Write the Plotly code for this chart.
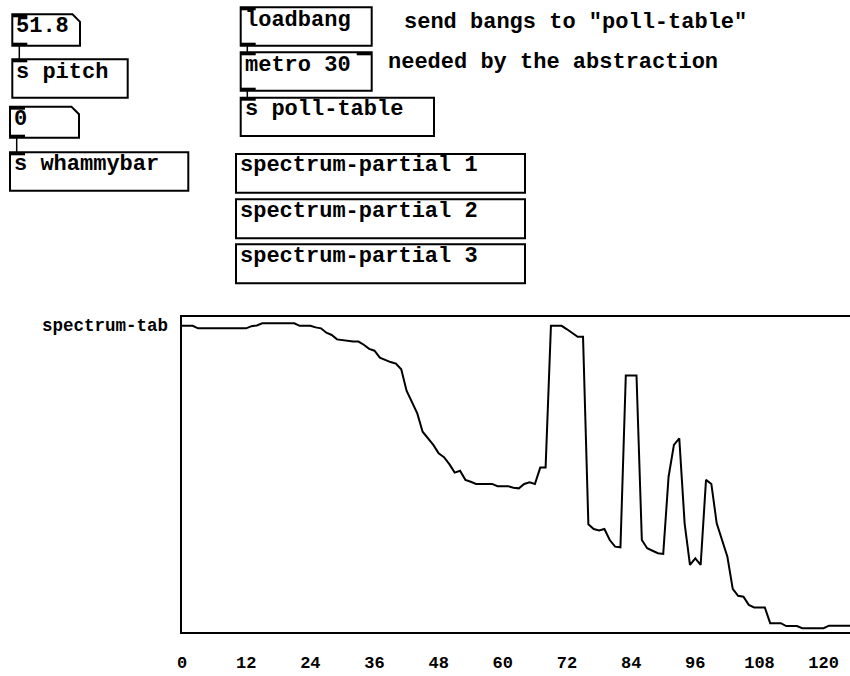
import plotly.graph_objects as go

# ---------------- data ----------------
array_name = "spectrum-tab"
spectrum_values = [
    97.2, 97.2, 97.2,
    96.4, 96.4, 96.4, 96.4, 96.4, 96.4, 96.4, 96.4, 96.4, 96.4,
    97.1, 97.3,
    98.0, 98.0, 98.0, 98.0, 98.0, 98.0, 98.0,
    97.2, 97.2, 97.2,
    96.7, 96.4, 95.0, 94.3, 92.9, 92.7, 92.3, 92.2, 92.2, 91.2,
    89.9, 89.3, 87.1, 86.3, 85.7, 85.2, 83.4, 76.6, 73.1, 69.4,
    63.6, 61.5, 59.4, 56.7, 55.5, 53.3, 50.6, 51.2, 48.3, 47.7,
    47.0, 47.0, 47.0, 47.0,
    46.3, 46.3, 46.3,
    45.8, 45.6, 47.0, 47.5, 47.0, 52.2, 52.2,
    97.2, 97.2, 97.2,
    96.1, 95.0, 93.7, 93.7, 34.2, 32.7, 32.2, 32.7, 29.2, 27.1, 26.9,
    81.4, 81.4, 81.4,
    29.2, 26.6, 25.8, 25.0, 24.8, 49.3, 59.4, 61.5, 34.5, 21.3,
    23.4, 21.3, 48.3, 47.0, 34.5, 29.2, 23.9, 13.7, 11.5, 11.2,
    8.6, 7.8, 7.8, 7.8, 2.8, 2.8, 2.8, 1.9, 1.9, 1.9,
    1.2, 1.2, 1.2, 1.2, 1.2,
    2.0, 2.0, 2.0, 2.0, 2.0, 2.0, 2.0,
]
assert len(spectrum_values) == 128
indices = list(range(len(spectrum_values)))
tick_values = [0, 12, 24, 36, 48, 60, 72, 84, 96, 108, 120]
tick_labels = [str(t) for t in tick_values]

# patch text (Pd objects and comments)
number_boxes = ["51.8", "0"]
object_boxes = ["s pitch", "s whammybar", "loadbang", "metro 30", "s poll-table",
                "spectrum-partial 1", "spectrum-partial 2", "spectrum-partial 3"]
comments = ['send bangs to "poll-table"', "needed by the abstraction"]

# ---------------- layout helpers ----------------
W, H = 850, 676
L, T, B = 182, 317, 632
PX_PER_UNIT = 5.347
x_max = (W - L) / PX_PER_UNIT

def X(p):
    return (p - L) / (W - L)

def Y(p):
    return (B - p) / (B - T)

FONT = "Liberation Mono"
shapes = []
annotations = []

def box(x0, y0, x1, y1):
    shapes.append(dict(type="rect", xref="paper", yref="paper",
                       x0=X(x0), x1=X(x1), y0=Y(y0), y1=Y(y1),
                       line=dict(color="black", width=2), fillcolor="rgba(0,0,0,0)"))

def numbox(x0, y0, x1, y1, notch=7.5):
    path = "M {a},{b} L {c},{b} L {d},{e} L {d},{f} L {a},{f} Z".format(
        a=X(x0), b=Y(y0), c=X(x1 - notch), d=X(x1), e=Y(y0 + notch), f=Y(y1))
    shapes.append(dict(type="path", xref="paper", yref="paper", path=path,
                       line=dict(color="black", width=2)))

def port(x0, y, top=True):
    y0, y1 = (y, y + 3) if top else (y - 3, y)
    shapes.append(dict(type="rect", xref="paper", yref="paper",
                       x0=X(x0), x1=X(x0 + 15), y0=Y(y0), y1=Y(y1),
                       line=dict(width=0), fillcolor="black"))

def wire(x, ya, yb):
    shapes.append(dict(type="line", xref="paper", yref="paper",
                       x0=X(x), x1=X(x), y0=Y(ya), y1=Y(yb),
                       line=dict(color="black", width=1.5)))

def text(t, x, y, size=22, anchor="left"):
    annotations.append(dict(text=t, xref="paper", yref="paper", x=X(x), y=Y(y),
                            xanchor=anchor, yanchor="middle", showarrow=False,
                            font=dict(family=FONT, size=size, color="black", weight="bold")))

# number box 51.8 -> s pitch
numbox(12.3, 14.3, 80, 45.7)
port(12.3, 14.3); port(12.3, 45.7, top=False)
text(number_boxes[0], 14, 26.5)
wire(19.3, 45.7, 59.3)
box(12.3, 59.3, 127.7, 97.7)
port(12.3, 59.3)
text(object_boxes[0], 14, 72)

# number box 0 -> s whammybar
numbox(10, 106.7, 79, 137.7)
port(10, 106.7); port(10, 137.7, top=False)
text(number_boxes[1], 12, 119)
wire(16.7, 137.7, 152.3)
box(10, 152.3, 188.3, 190.7)
port(10, 152.3)
text(object_boxes[1], 12, 165)

# loadbang -> metro -> s poll-table
box(240.7, 7.3, 371.7, 45.7)
port(240.7, 7.3); port(240.7, 45.7, top=False)
text(object_boxes[2], 242.5, 20)
wire(247.3, 45.7, 52.3)
box(240.7, 52.3, 371.7, 90.7)
port(240.7, 52.3); port(356.7, 52.3); port(240.7, 90.7, top=False)
text(object_boxes[3], 242.5, 65)
wire(247.3, 90.7, 97.7)
box(240.7, 97.7, 434, 136)
port(240.7, 97.7)
text(object_boxes[4], 242.5, 110)

# abstractions
for i, (y0, y1) in enumerate([(154, 192.7), (199.3, 238.3), (244.3, 283.3)]):
    box(236, y0, 525, y1)
    text(object_boxes[5 + i], 237.5, y0 + 12)

# comments
text(comments[0], 402, 22.5)
text(comments[1], 386, 62.5)

# array name label
text(array_name, 170, 325.5, size=17.5, anchor="right")

# ---------------- figure ----------------
fig = go.Figure()
fig.add_trace(go.Scatter(x=indices, y=spectrum_values, mode="lines",
                         line=dict(color="black", width=2), hoverinfo="skip",
                         showlegend=False))

fig.update_layout(
    width=W, height=H, autosize=False,
    margin=dict(l=L, r=0, t=T, b=H - B, pad=0),
    paper_bgcolor="white", plot_bgcolor="white",
    shapes=shapes, annotations=annotations,
    showlegend=False,
)
fig.update_xaxes(range=[0, x_max], showline=True, linecolor="black", linewidth=2,
                 mirror=True, showgrid=False, zeroline=False, ticks="",
                 tickvals=tick_values, ticktext=tick_labels, ticklabelstandoff=14,
                 tickfont=dict(family=FONT, size=17, color="black", weight="bold"))
fig.update_yaxes(range=[0, 100], showline=True, linecolor="black", linewidth=2,
                 mirror=False, showgrid=False, zeroline=False, ticks="",
                 showticklabels=False)

fig.write_html(
    "out.html",
    config={"displayModeBar": False},
    post_script="document.body.style.margin='0px';document.body.style.overflow='hidden';",
)
